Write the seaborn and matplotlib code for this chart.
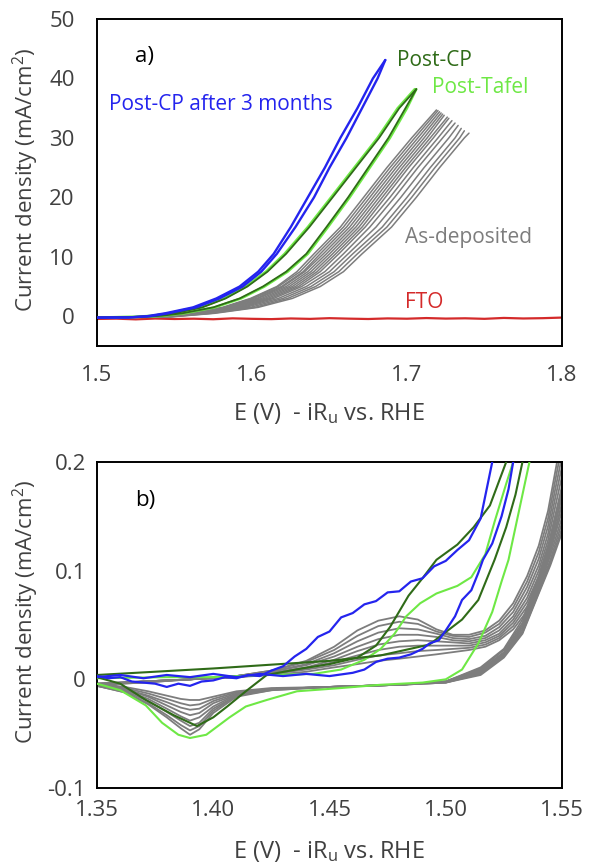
import numpy as np
import pandas as pd
import matplotlib
matplotlib.use("Agg")
import matplotlib.pyplot as plt
import seaborn as sns
from matplotlib.ticker import FixedLocator, FixedFormatter

# ---------------------------------------------------------------------------
# Panel a) LSV curves, E (V vs RHE) / J (mA/cm2)
# ---------------------------------------------------------------------------
FTO_E = [1.500, 1.5125, 1.525, 1.5375, 1.550, 1.5625, 1.575, 1.5875, 1.600,
         1.6125, 1.625, 1.6375, 1.650, 1.6625, 1.675, 1.6875, 1.700, 1.7125,
         1.725, 1.7375, 1.750, 1.7625, 1.775, 1.7875, 1.800]
FTO_J = [-0.45, -0.40, -0.52, -0.38, -0.46, -0.41, -0.50, -0.35, -0.43, -0.48,
         -0.37, -0.44, -0.32, -0.40, -0.46, -0.36, -0.41, -0.30, -0.39, -0.34,
         -0.43, -0.28, -0.37, -0.32, -0.22]

BLUE_A_UP_E = [1.500, 1.520, 1.532, 1.544, 1.562, 1.577, 1.592, 1.604, 1.614,
               1.625, 1.636, 1.647, 1.657, 1.668, 1.678, 1.686]
BLUE_A_UP_J = [-0.2, -0.2, 0.0, 0.5, 1.5, 3.0, 5.0, 7.5, 10.5, 15.0, 20.0,
               25.0, 30.0, 35.0, 40.0, 43.1]
BLUE_A_DN_E = [1.686, 1.681, 1.671, 1.661, 1.650, 1.640, 1.628, 1.616, 1.606,
               1.594, 1.579, 1.564, 1.546, 1.534, 1.520, 1.500]
BLUE_A_DN_J = [43.1, 40.0, 35.0, 30.0, 25.0, 20.0, 15.0, 10.5, 7.5, 5.0, 3.0,
               1.5, 0.5, 0.0, -0.2, -0.25]

GREEN_A_J = [-0.2, -0.1, 0.1, 0.5, 1.5, 3.0, 5.0, 7.5, 10.5, 15.0, 20.0, 25.0,
             30.0, 35.0, 38.2]
CP_A_LEFT_E = [1.500, 1.525, 1.537, 1.550, 1.568, 1.583, 1.597, 1.610, 1.622,
               1.637, 1.652, 1.667, 1.682, 1.695, 1.706]
CP_A_RIGHT_E = [1.500, 1.530, 1.542, 1.555, 1.575, 1.592, 1.607, 1.622, 1.635,
                1.648, 1.662, 1.675, 1.688, 1.699, 1.706]
TAFEL_A_LEFT_E = [1.500, 1.524, 1.536, 1.549, 1.567, 1.582, 1.596, 1.609,
                  1.621, 1.636, 1.651, 1.666, 1.681, 1.694, 1.705]
TAFEL_A_RIGHT_E = [1.500, 1.531, 1.543, 1.556, 1.576, 1.593, 1.608, 1.623,
                   1.636, 1.649, 1.663, 1.676, 1.689, 1.700, 1.706]

GRAY_A_J = [-0.2, -0.1, 0.5, 1.5, 3.0, 5.0, 7.5, 10.5, 15.0, 20.0, 25.0, 30.0]
GRAY_A_E = [
    [1.500, 1.540, 1.560, 1.581, 1.599, 1.616, 1.629, 1.640, 1.657, 1.672, 1.687, 1.703],
    [1.500, 1.540, 1.561, 1.582, 1.600, 1.617, 1.631, 1.642, 1.659, 1.674, 1.689, 1.705],
    [1.500, 1.540, 1.561, 1.583, 1.601, 1.619, 1.633, 1.644, 1.661, 1.676, 1.691, 1.707],
    [1.500, 1.541, 1.562, 1.584, 1.603, 1.620, 1.634, 1.646, 1.663, 1.678, 1.693, 1.709],
    [1.500, 1.541, 1.563, 1.585, 1.604, 1.622, 1.636, 1.648, 1.665, 1.680, 1.695, 1.711],
    [1.500, 1.541, 1.563, 1.587, 1.606, 1.624, 1.638, 1.650, 1.667, 1.682, 1.697, 1.713],
    [1.500, 1.542, 1.564, 1.588, 1.608, 1.626, 1.640, 1.652, 1.669, 1.684, 1.699, 1.715],
    [1.500, 1.542, 1.565, 1.590, 1.610, 1.628, 1.642, 1.654, 1.671, 1.686, 1.701, 1.717],
    [1.500, 1.543, 1.566, 1.592, 1.612, 1.630, 1.644, 1.656, 1.673, 1.689, 1.704, 1.720],
    [1.500, 1.544, 1.568, 1.594, 1.614, 1.632, 1.647, 1.659, 1.676, 1.692, 1.707, 1.723],
    [1.500, 1.545, 1.570, 1.596, 1.617, 1.635, 1.650, 1.662, 1.680, 1.696, 1.711, 1.727],
    [1.500, 1.546, 1.572, 1.599, 1.620, 1.638, 1.653, 1.665, 1.684, 1.700, 1.715, 1.731],
    [1.500, 1.547, 1.574, 1.602, 1.623, 1.641, 1.656, 1.668, 1.687, 1.703, 1.718, 1.734],
    [1.500, 1.548, 1.576, 1.604, 1.626, 1.644, 1.659, 1.671, 1.690, 1.706, 1.721, 1.737],
]
GRAY_A_TIP_E = [1.719, 1.720, 1.721, 1.722, 1.723, 1.724, 1.726, 1.727, 1.729,
                1.731, 1.733, 1.735, 1.737, 1.740]
GRAY_A_TIP_J = [34.7, 34.6, 34.4, 34.2, 34.0, 33.8, 33.5, 33.3, 32.9, 32.5,
                32.1, 31.6, 31.2, 30.8]

# ---------------------------------------------------------------------------
# Panel b) CV zoom, E (V vs RHE) / J (mA/cm2)
# ---------------------------------------------------------------------------
BLUE_B_HUMP_E = [1.350, 1.355, 1.360, 1.365, 1.370, 1.375, 1.380, 1.385, 1.390,
                 1.395, 1.400, 1.405, 1.410, 1.415, 1.420, 1.425, 1.430, 1.435,
                 1.440, 1.445, 1.450, 1.455, 1.460, 1.465, 1.470, 1.475, 1.480,
                 1.485, 1.490, 1.495, 1.500, 1.505, 1.510, 1.515, 1.520]
BLUE_B_HUMP_J = [0.003, 0.001, 0.002, -0.002, -0.003, -0.004, -0.007, -0.004,
                 -0.006, -0.002, -0.001, 0.002, 0.001, 0.004, 0.003, 0.008,
                 0.012, 0.021, 0.028, 0.039, 0.044, 0.057, 0.061, 0.069, 0.072,
                 0.080, 0.081, 0.090, 0.093, 0.104, 0.109, 0.119, 0.128, 0.148,
                 0.200]
BLUE_B_LOW_E = [1.350, 1.360, 1.370, 1.380, 1.390, 1.400, 1.410, 1.420, 1.430,
                1.440, 1.450, 1.460, 1.465, 1.470, 1.475, 1.480, 1.485, 1.490,
                1.493, 1.497, 1.500, 1.504, 1.507, 1.511, 1.514, 1.516, 1.520,
                1.524, 1.527, 1.529]
BLUE_B_LOW_J = [0.002, 0.004, 0.001, 0.004, 0.002, 0.005, 0.002, 0.005, 0.003,
                0.005, 0.003, 0.006, 0.009, 0.016, 0.019, 0.020, 0.023, 0.028,
                0.033, 0.036, 0.045, 0.058, 0.073, 0.082, 0.098, 0.110, 0.125,
                0.150, 0.175, 0.200]

CP_B_DIP_E = [1.350, 1.360, 1.371, 1.383, 1.393, 1.400, 1.406, 1.414, 1.423,
              1.438, 1.450, 1.462, 1.470, 1.476, 1.484, 1.490, 1.496, 1.505,
              1.512, 1.519, 1.526]
CP_B_DIP_J = [0.002, -0.004, -0.019, -0.033, -0.043, -0.035, -0.025, -0.011,
              0.004, 0.010, 0.014, 0.020, 0.031, 0.048, 0.077, 0.093, 0.110,
              0.124, 0.140, 0.160, 0.200]
CP_B_FLAT_E = [1.350, 1.400, 1.450, 1.472, 1.493, 1.507, 1.514, 1.521, 1.526,
               1.530, 1.533]
CP_B_FLAT_J = [0.004, 0.010, 0.017, 0.022, 0.032, 0.055, 0.073, 0.110, 0.140,
               0.170, 0.200]

TAFEL_B_DIP_E = [1.350, 1.360, 1.371, 1.378, 1.385, 1.390, 1.397, 1.407, 1.414,
                 1.423, 1.436, 1.455, 1.472, 1.490, 1.500, 1.507, 1.514, 1.520,
                 1.524, 1.527, 1.531, 1.534, 1.536]
TAFEL_B_DIP_J = [-0.004, -0.010, -0.024, -0.040, -0.051, -0.054, -0.051,
                 -0.035, -0.025, -0.019, -0.011, -0.008, -0.005, -0.003, 0.000,
                 0.009, 0.033, 0.062, 0.090, 0.110, 0.150, 0.180, 0.200]
TAFEL_B_HUMP_E = [1.350, 1.380, 1.400, 1.422, 1.443, 1.455, 1.465, 1.472,
                  1.478, 1.483, 1.489, 1.496, 1.505, 1.511, 1.517, 1.521,
                  1.526, 1.529]
TAFEL_B_HUMP_J = [0.001, 0.002, 0.002, 0.004, 0.005, 0.009, 0.018, 0.028,
                  0.042, 0.058, 0.070, 0.079, 0.086, 0.094, 0.115, 0.145,
                  0.180, 0.200]

GRAY_B_LOW_E = [1.350, 1.362, 1.372, 1.380, 1.386, 1.390, 1.394, 1.400, 1.410,
                1.425, 1.450, 1.480, 1.500, 1.515, 1.525, 1.533, 1.540, 1.545,
                1.550]
GRAY_B_LOW_J = [
    [-0.004, -0.007, -0.011, -0.015, -0.018, -0.019, -0.019, -0.016, -0.011, -0.008, -0.007, -0.005, -0.002, 0.011, 0.028, 0.055, 0.095, 0.130, 0.175],
    [-0.004, -0.008, -0.013, -0.018, -0.022, -0.024, -0.023, -0.018, -0.012, -0.009, -0.007, -0.005, -0.002, 0.010, 0.027, 0.052, 0.092, 0.126, 0.168],
    [-0.005, -0.009, -0.015, -0.021, -0.026, -0.028, -0.027, -0.020, -0.013, -0.009, -0.007, -0.005, -0.002, 0.009, 0.025, 0.050, 0.089, 0.122, 0.161],
    [-0.005, -0.009, -0.016, -0.024, -0.030, -0.033, -0.031, -0.022, -0.014, -0.009, -0.007, -0.005, -0.002, 0.008, 0.024, 0.048, 0.087, 0.118, 0.155],
    [-0.005, -0.010, -0.018, -0.027, -0.034, -0.038, -0.035, -0.025, -0.014, -0.009, -0.007, -0.005, -0.002, 0.007, 0.023, 0.046, 0.084, 0.114, 0.149],
    [-0.006, -0.011, -0.020, -0.030, -0.038, -0.043, -0.040, -0.027, -0.015, -0.009, -0.007, -0.005, -0.003, 0.006, 0.022, 0.044, 0.082, 0.110, 0.144],
    [-0.006, -0.012, -0.022, -0.033, -0.042, -0.047, -0.043, -0.029, -0.015, -0.010, -0.007, -0.005, -0.003, 0.005, 0.021, 0.043, 0.080, 0.107, 0.139],
    [-0.006, -0.012, -0.023, -0.035, -0.045, -0.051, -0.046, -0.031, -0.016, -0.010, -0.007, -0.005, -0.003, 0.004, 0.020, 0.042, 0.079, 0.105, 0.135],
]
GRAY_B_UP_E = [1.350, 1.370, 1.390, 1.410, 1.425, 1.440, 1.452, 1.462, 1.471,
               1.480, 1.488, 1.496, 1.503, 1.510, 1.517, 1.523, 1.529, 1.535,
               1.540, 1.544, 1.547, 1.550]
GRAY_B_UP_J = [
    [-0.004, -0.002, 0.000, 0.003, 0.008, 0.017, 0.030, 0.045, 0.054, 0.058, 0.055, 0.046, 0.041, 0.041, 0.045, 0.054, 0.070, 0.095, 0.123, 0.155, 0.190, 0.225],
    [-0.004, -0.002, 0.000, 0.003, 0.008, 0.016, 0.027, 0.040, 0.049, 0.053, 0.051, 0.044, 0.040, 0.039, 0.043, 0.051, 0.066, 0.090, 0.117, 0.148, 0.182, 0.215],
    [-0.004, -0.002, 0.000, 0.003, 0.007, 0.014, 0.024, 0.035, 0.043, 0.047, 0.046, 0.042, 0.038, 0.037, 0.040, 0.048, 0.062, 0.085, 0.111, 0.141, 0.174, 0.205],
    [-0.004, -0.002, 0.000, 0.003, 0.007, 0.013, 0.021, 0.030, 0.037, 0.041, 0.041, 0.039, 0.036, 0.035, 0.038, 0.045, 0.058, 0.080, 0.105, 0.134, 0.166, 0.196],
    [-0.005, -0.002, 0.000, 0.003, 0.006, 0.011, 0.018, 0.026, 0.032, 0.035, 0.036, 0.035, 0.034, 0.033, 0.036, 0.042, 0.055, 0.075, 0.100, 0.128, 0.158, 0.187],
    [-0.005, -0.002, 0.000, 0.002, 0.005, 0.010, 0.016, 0.022, 0.027, 0.030, 0.031, 0.031, 0.031, 0.031, 0.034, 0.040, 0.052, 0.071, 0.095, 0.122, 0.150, 0.178],
    [-0.005, -0.003, 0.000, 0.002, 0.005, 0.009, 0.013, 0.018, 0.022, 0.024, 0.026, 0.027, 0.028, 0.029, 0.032, 0.038, 0.049, 0.067, 0.090, 0.116, 0.143, 0.170],
    [-0.005, -0.003, 0.000, 0.002, 0.004, 0.007, 0.011, 0.014, 0.017, 0.019, 0.021, 0.023, 0.025, 0.027, 0.030, 0.036, 0.046, 0.063, 0.085, 0.110, 0.136, 0.162],
]

# Colours
C_BLUE = "#2424ee"
C_CP = "#2f6b18"
C_TAFEL = "#6ee845"
C_GRAY = "#7d7d7d"
C_RED = "#d42a2a"
C_TEXT = "#404040"

W, H = 591, 865


def trace(ax, xs, ys, color, lw, z=2):
    df = pd.DataFrame({"E": xs, "J": ys})
    sns.lineplot(data=df, x="E", y="J", sort=False, estimator=None,
                 color=color, linewidth=lw, ax=ax, zorder=z)


def style_axes(ax, xlim, ylim, xmaj, xmin, xlab, ymaj, ymin, ylab, xpad, ypad):
    ax.set_xlim(*xlim)
    ax.set_ylim(*ylim)
    ax.xaxis.set_major_locator(FixedLocator(xmaj))
    ax.xaxis.set_major_formatter(FixedFormatter(xlab))
    ax.xaxis.set_minor_locator(FixedLocator(xmin))
    ax.yaxis.set_major_locator(FixedLocator(ymaj))
    ax.yaxis.set_major_formatter(FixedFormatter(ylab))
    ax.yaxis.set_minor_locator(FixedLocator(ymin))
    ax.tick_params(which="both", direction="in", length=4.5, width=1.2,
                   color="black", top=False, right=False, labelsize=16,
                   labelcolor=C_TEXT)
    ax.tick_params(axis="x", which="both", pad=xpad)
    ax.tick_params(axis="y", which="both", pad=ypad)
    for sp in ax.spines.values():
        sp.set_visible(True)
        sp.set_linewidth(1.4)
        sp.set_color("black")
    ax.set_xlabel(r"E (V)  - iR$_\mathrm{u}$ vs. RHE", fontsize=17, color=C_TEXT)
    ax.set_ylabel(r"Current density (mA/cm$^2$)", fontsize=16, color=C_TEXT)
    ax.xaxis.label.set_va("center")
    ax.yaxis.label.set_va("center")


sns.set_theme(style="white")
plt.rcParams["font.family"] = ["Open Sans", "DejaVu Sans"]
plt.rcParams["mathtext.fontset"] = "custom"
plt.rcParams["mathtext.rm"] = "Open Sans"
plt.rcParams["mathtext.it"] = "Open Sans:italic"
plt.rcParams["axes.unicode_minus"] = False

fig = plt.figure(figsize=(W / 100, H / 100), dpi=100)
fig.patch.set_facecolor("white")
ax_a = fig.add_axes([97 / W, 1 - 346 / H, 465 / W, 327 / H])
ax_b = fig.add_axes([97 / W, 1 - 788 / H, 465 / W, 326 / H])

# ---- panel a ----
trace(ax_a, FTO_E, FTO_J, C_RED, 1.6, z=2)
for es, tip_e, tip_j in zip(GRAY_A_E, GRAY_A_TIP_E, GRAY_A_TIP_J):
    trace(ax_a, es + [tip_e], GRAY_A_J + [tip_j], C_GRAY, 1.1, z=3)
trace(ax_a, TAFEL_A_LEFT_E, GREEN_A_J, C_TAFEL, 1.8, z=4)
trace(ax_a, TAFEL_A_RIGHT_E, GREEN_A_J, C_TAFEL, 1.8, z=4)
trace(ax_a, CP_A_LEFT_E, GREEN_A_J, C_CP, 1.3, z=5)
trace(ax_a, CP_A_RIGHT_E, GREEN_A_J, C_CP, 1.3, z=5)
trace(ax_a, BLUE_A_UP_E, BLUE_A_UP_J, C_BLUE, 1.7, z=6)
trace(ax_a, BLUE_A_DN_E, BLUE_A_DN_J, C_BLUE, 1.7, z=6)

style_axes(ax_a, (1.5, 1.8), (-5, 50),
           [1.5, 1.6, 1.7, 1.8], list(np.arange(1.5, 1.8001, 0.025)),
           ["1.5", "1.6", "1.7", "1.8"],
           [0, 10, 20, 30, 40, 50], [-5, 5, 15, 25, 35, 45],
           ["0", "10", "20", "30", "40", "50"], xpad=14, ypad=16)
ax_a.xaxis.set_label_coords(0.5, -0.205)
ax_a.yaxis.set_label_coords(-0.152, 0.51)

ax_a.text(0.082, 0.884, "a)", transform=ax_a.transAxes, fontsize=16,
          color="black", va="center", ha="left")
ax_a.text(1.6935, 43.1, "Post-CP", color=C_CP, fontsize=15, va="center")
ax_a.text(1.716, 38.4, "Post-Tafel", color=C_TAFEL, fontsize=15, va="center")
ax_a.text(1.5075, 35.6, "Post-CP after 3 months", color=C_BLUE, fontsize=15,
          va="center")
ax_a.text(1.699, 13.2, "As-deposited", color=C_GRAY, fontsize=15, va="center")
ax_a.text(1.699, 2.4, "FTO", color=C_RED, fontsize=15, va="center")

# ---- panel b ----
for ys in GRAY_B_LOW_J:
    trace(ax_b, GRAY_B_LOW_E, ys, C_GRAY, 1.3, z=2)
for ys in GRAY_B_UP_J:
    trace(ax_b, GRAY_B_UP_E, ys, C_GRAY, 1.3, z=2)
trace(ax_b, TAFEL_B_DIP_E, TAFEL_B_DIP_J, C_TAFEL, 1.5, z=3)
trace(ax_b, TAFEL_B_HUMP_E, TAFEL_B_HUMP_J, C_TAFEL, 1.5, z=3)
trace(ax_b, CP_B_DIP_E, CP_B_DIP_J, C_CP, 1.5, z=4)
trace(ax_b, CP_B_FLAT_E, CP_B_FLAT_J, C_CP, 1.5, z=4)
trace(ax_b, BLUE_B_HUMP_E, BLUE_B_HUMP_J, C_BLUE, 1.6, z=5)
trace(ax_b, BLUE_B_LOW_E, BLUE_B_LOW_J, C_BLUE, 1.6, z=5)

style_axes(ax_b, (1.35, 1.55), (-0.1, 0.2),
           [1.35, 1.40, 1.45, 1.50, 1.55], list(np.arange(1.35, 1.5501, 0.0125)),
           ["1.35", "1.40", "1.45", "1.50", "1.55"],
           [-0.1, 0.0, 0.1, 0.2], list(np.arange(-0.1, 0.2001, 0.025)),
           ["-0.1", "0", "0.1", "0.2"], xpad=9, ypad=8)
ax_b.xaxis.set_label_coords(0.5, -0.196)
ax_b.yaxis.set_label_coords(-0.152, 0.54)

ax_b.text(0.082, 0.883, "b)", transform=ax_b.transAxes, fontsize=16,
          color="black", va="center", ha="left")

fig.savefig("out.png", dpi=100, facecolor="white")
